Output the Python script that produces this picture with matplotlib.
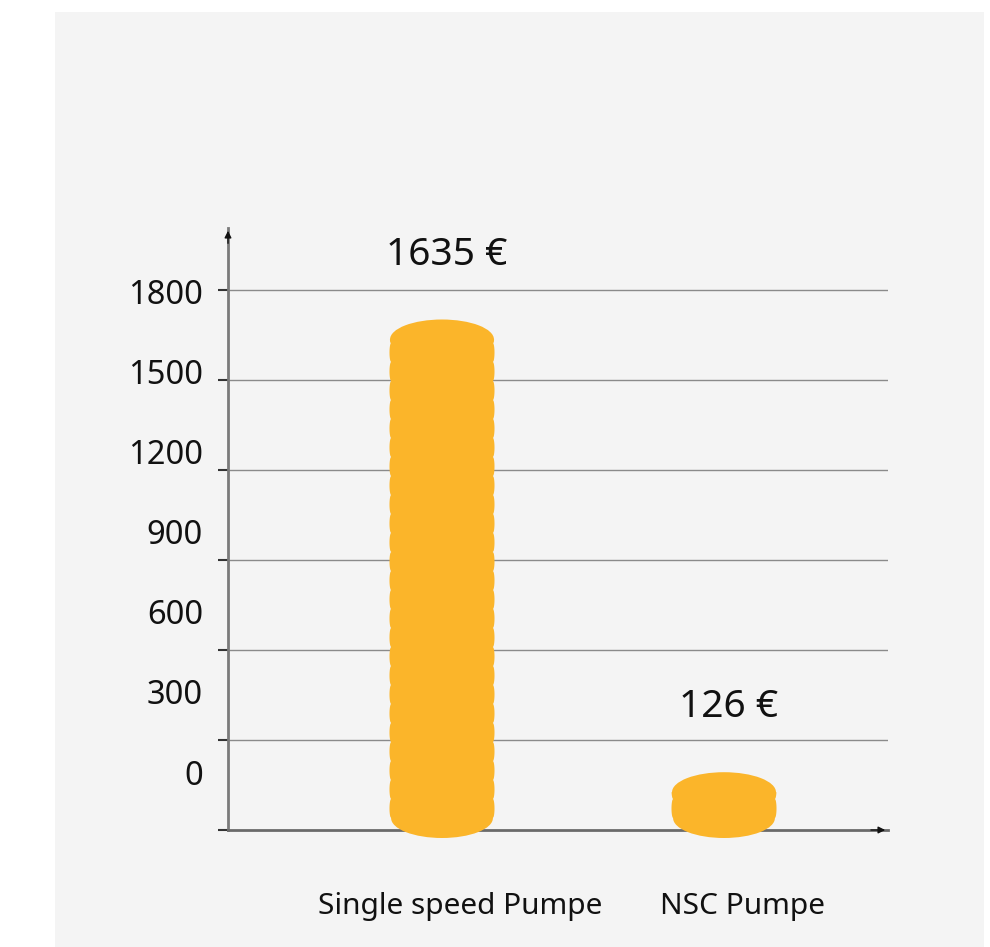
import numpy as np
import matplotlib
matplotlib.use("Agg")
import matplotlib.pyplot as plt
from matplotlib.patches import Rectangle, Ellipse

categories = ["Single speed Pumpe", "NSC Pumpe"]
values = [1635, 126]
value_labels = ["1635 €", "126 €"]
grid_values = [0, 300, 600, 900, 1200, 1500, 1800]
tick_labels = ["0", "300", "600", "900", "1200", "1500", "1800"]

plt.rcParams['font.family'] = ['Noto Sans', 'DejaVu Sans']

W, H = 990, 947
fig = plt.figure(figsize=(W / 100, H / 100), dpi=100)
fig.patch.set_facecolor("white")
fig.patches.append(Rectangle((55 / W, 0), (984 - 55) / W, (947 - 12) / H,
                             transform=fig.transFigure, facecolor="#f4f4f4",
                             edgecolor="none", zorder=-10))

ax_l, ax_r, ax_b, ax_t = 228, 888, 830, 228
ax = fig.add_axes([ax_l / W, (H - ax_b) / H, (ax_r - ax_l) / W, (ax_b - ax_t) / H])
ax.set_facecolor("none")
ax.set_zorder(5)

px_per_unit = 90 / 300.0  # pixels per data unit
ymax = (ax_b - ax_t) / px_per_unit
ax.set_ylim(0, ymax)
xpx = 282.0
ax.set_xlim(-(442 - ax_l) / xpx, (ax_r - 442) / xpx)

# gridlines
for v in grid_values[1:]:
    ax.axhline(v, color="#8a8a8a", lw=1.0, zorder=1)

for s in ["top", "right"]:
    ax.spines[s].set_visible(False)
ax.spines["left"].set_color("#7a7a7a")
ax.spines["left"].set_linewidth(2)
ax.spines["bottom"].set_color("#6a6a6a")
ax.spines["bottom"].set_linewidth(2)
ax.set_yticks(grid_values)
ax.set_yticklabels([])
ax.tick_params(axis="y", length=7, width=1.5, color="#333333", direction="out")
ax.set_xticks([])

# tick labels (spaced as in the reference)
for v, lab in zip(grid_values, tick_labels):
    ax.text(-(442 - 203) / xpx, 180 + v * 0.8907, lab, ha="right", va="center",
            fontsize=23.5, color="#111111", transform=ax.transData, clip_on=False)

# arrows
ax.annotate("", xy=(0, 1.0), xytext=(0, 0.97), xycoords="axes fraction",
            arrowprops=dict(arrowstyle="-|>", color="#111111", lw=1,
                            mutation_scale=10))
ax.annotate("", xy=(1.0, 0), xytext=(0.97, 0), xycoords="axes fraction",
            arrowprops=dict(arrowstyle="-|>", color="#111111", lw=1,
                            mutation_scale=10))

# coin stacks
coin_color = "#fbb52a"
bar_w = 105 / xpx
ry = 20 / px_per_unit      # ellipse half-height in data units
y0 = 40                     # bottom ellipse center
coin_h = 19 / px_per_unit   # coin thickness
bump = 2.0 / xpx

for i, v in enumerate(values):
    xc = i
    top = v
    ys = np.linspace(y0, top, 600)
    phase = (ys - y0) / coin_h
    notch = bump * (1 - np.abs(np.sin(np.pi * phase)) ** 0.35)
    xl = xc - bar_w / 2 + notch
    xr = xc + bar_w / 2 - notch
    poly_x = np.concatenate([xl, xr[::-1]])
    poly_y = np.concatenate([ys, ys[::-1]])
    ax.fill(poly_x, poly_y, color=coin_color, zorder=3, lw=0)
    ax.add_patch(Ellipse((xc, y0), bar_w * 0.97, 2 * ry, color=coin_color, zorder=3, lw=0,
                         clip_on=False))
    ax.add_patch(Ellipse((xc, top), bar_w * 0.99, 2 * ry, color=coin_color, zorder=3, lw=0))
    ax.annotate(value_labels[i], xy=(xc, top), xytext=(5 / 100 * 72, 85 / 100 * 72),
                textcoords="offset points", ha="center", va="center",
                fontsize=28, color="#111111")
    ax.text(xc + 18 / xpx, -76 / px_per_unit, categories[i], ha="center", va="center",
            fontsize=21.5, color="#111111", clip_on=False)

fig.savefig("out.png", dpi=100, facecolor=fig.get_facecolor())
